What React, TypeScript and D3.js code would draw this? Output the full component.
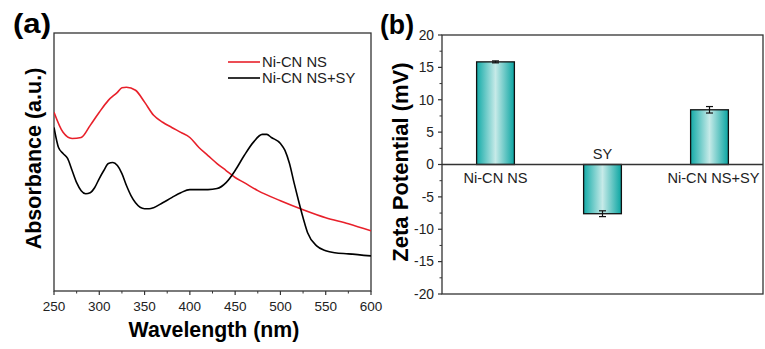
import React from "react";
import * as d3 from "d3";

const wavelengths = [250,255,260,265,270,275,280,285,290,295,300,305,310,315,320,325,330,335,340,350,355,360,370,380,390,400,410,420,430,440,450,460,470,480,485,490,500,505,510,515,520,525,530,540,550,560,575,600];
const blackAbs = [0.634,0.556,0.533,0.514,0.467,0.420,0.389,0.377,0.381,0.401,0.436,0.467,0.494,0.498,0.486,0.455,0.409,0.370,0.342,0.319,0.319,0.323,0.342,0.362,0.381,0.393,0.393,0.393,0.397,0.420,0.467,0.525,0.576,0.607,0.607,0.595,0.572,0.545,0.494,0.420,0.350,0.284,0.226,0.175,0.156,0.148,0.144,0.136];

const redWl = [250,260,270,280,290,300,310,320,325,330,340,350,360,370,380,390,400,410,420,430,440,450,460,475,500,525,550,575,600];
const redAbs = [0.693,0.615,0.591,0.595,0.642,0.693,0.739,0.770,0.788,0.790,0.778,0.732,0.681,0.654,0.634,0.615,0.595,0.556,0.525,0.494,0.467,0.440,0.420,0.389,0.350,0.315,0.284,0.261,0.233];

const xTicks = [250,300,350,400,450,500,550,600];
const legendNames = ["Ni-CN NS", "Ni-CN NS+SY"];

const categories = ["Ni-CN NS", "SY", "Ni-CN NS+SY"];
const zeta = [15.85, -7.6, 8.45];
const zetaErr = [0.15, 0.45, 0.5];
const yTicksB = [20,15,10,5,0,-5,-10,-15,-20];

const FONT = "Arial, 'Liberation Sans', sans-serif";
const AX = "#333";

export default function App() {
  // panel a
  const aL = 54, aR = 371, aT = 33, aB = 291;
  const xa = d3.scaleLinear().domain([250, 600]).range([aL, aR]);
  const ya = d3.scaleLinear().domain([0, 1]).range([aB, aT]);
  const line = d3.line<[number, number]>().x(d => xa(d[0])).y(d => ya(d[1])).curve(d3.curveMonotoneX);
  const redPath = line(redWl.map((w, i) => [w, redAbs[i]]) as [number, number][]) || "";
  const blackPath = line(wavelengths.map((w, i) => [w, blackAbs[i]]) as [number, number][]) || "";
  const minorX = d3.range(275, 600, 50);

  // panel b
  const bL = 442, bR = 763, bT = 35, bB = 294;
  const xb = d3.scaleBand<string>().domain(categories).range([bL, bR]).paddingInner(0.647).paddingOuter(0.3235);
  const yb = d3.scaleLinear().domain([-20, 20]).range([bB, bT]);
  const minorY = d3.range(-17.5, 20, 5);

  return (
    <svg width={765} height={349} style={{ position: "absolute", left: 0, top: 0, background: "#fff" }} fontFamily={FONT}>
      <defs>
        <linearGradient id="barGrad" x1="0" x2="1" y1="0" y2="0">
          <stop offset="0" stopColor="#14aba8" />
          <stop offset="0.5" stopColor="#c6eae8" />
          <stop offset="1" stopColor="#0aa5a2" />
        </linearGradient>
        <clipPath id="clipA"><rect x={aL} y={aT} width={aR - aL} height={aB - aT} /></clipPath>
      </defs>

      {/* Panel (a) */}
      <text x={13} y={33} fontSize={27} fontWeight="bold" fill="#000" textLength={38} lengthAdjust="spacingAndGlyphs">(a)</text>
      <rect x={aL} y={aT} width={aR - aL} height={aB - aT} fill="none" stroke={AX} strokeWidth={1.3} />
      {xTicks.map(t => (
        <g key={t}>
          <line x1={xa(t)} x2={xa(t)} y1={aB} y2={aB + 4} stroke={AX} strokeWidth={1.2} />
          <text x={xa(t)} y={aB + 20} fontSize={13.5} textAnchor="middle" fill="#222">{t}</text>
        </g>
      ))}
      {minorX.map(t => (
        <line key={t} x1={xa(t)} x2={xa(t)} y1={aB} y2={aB + 2.5} stroke={AX} strokeWidth={1} />
      ))}
      <g clipPath="url(#clipA)">
        <path d={redPath} fill="none" stroke="#e8202a" strokeWidth={1.6} />
        <path d={blackPath} fill="none" stroke="#000" strokeWidth={1.6} />
      </g>
      <line x1={228} x2={260} y1={62} y2={62} stroke="#e8202a" strokeWidth={1.6} />
      <text x={262} y={67.3} fontSize={14.8} fill="#222">{legendNames[0]}</text>
      <line x1={228} x2={260} y1={78} y2={78} stroke="#000" strokeWidth={1.6} />
      <text x={262} y={83.3} fontSize={14.8} fill="#222">{legendNames[1]}</text>
      <text x={214} y={337} fontSize={21.3} fontWeight="bold" textAnchor="middle" fill="#000">Wavelength (nm)</text>
      <text transform={`translate(41,158.5) rotate(-90)`} fontSize={21.5} fontWeight="bold" textAnchor="middle" fill="#000">Absorbance (a.u.)</text>

      {/* Panel (b) */}
      <text x={380} y={34} fontSize={27} fontWeight="bold" fill="#000" textLength={34} lengthAdjust="spacingAndGlyphs">(b)</text>
      {zeta.map((v, i) => {
        const c = categories[i];
        const x = xb(c)!;
        const w = xb.bandwidth();
        const y0 = yb(Math.max(0, v));
        const h = Math.abs(yb(v) - yb(0));
        const cx = x + w / 2;
        const e1 = yb(v + zetaErr[i]);
        const e2 = yb(v - zetaErr[i]);
        return (
          <g key={c}>
            <rect x={x} y={y0} width={w} height={h} fill="url(#barGrad)" stroke="#111" strokeWidth={1.3} />
            <line x1={cx} x2={cx} y1={e1} y2={e2} stroke="#111" strokeWidth={1.2} />
            <line x1={cx - 3.5} x2={cx + 3.5} y1={e1} y2={e1} stroke="#111" strokeWidth={1.2} />
            <line x1={cx - 3.5} x2={cx + 3.5} y1={e2} y2={e2} stroke="#111" strokeWidth={1.2} />
            <text x={cx + (i === 2 ? 4 : 0)} y={v >= 0 ? yb(0) + 18.5 : yb(0) - 6} fontSize={14.6} textAnchor="middle" fill="#222">{c}</text>
          </g>
        );
      })}
      <line x1={bL} x2={bR} y1={yb(0)} y2={yb(0)} stroke={AX} strokeWidth={1.3} />
      <rect x={bL} y={bT} width={bR - bL} height={bB - bT} fill="none" stroke={AX} strokeWidth={1.3} />
      {yTicksB.map(t => (
        <g key={t}>
          <line x1={bL - 4} x2={bL} y1={yb(t)} y2={yb(t)} stroke={AX} strokeWidth={1.2} />
          <text x={bL - 8} y={yb(t) + 4.8} fontSize={13.8} textAnchor="end" fill="#222">{t}</text>
        </g>
      ))}
      {minorY.map(t => (
        <line key={t} x1={bL - 2.5} x2={bL} y1={yb(t)} y2={yb(t)} stroke={AX} strokeWidth={1} />
      ))}
      <text transform={`translate(408,162) rotate(-90)`} fontSize={22} fontWeight="bold" textAnchor="middle" fill="#000">Zeta Potential (mV)</text>
    </svg>
  );
}
